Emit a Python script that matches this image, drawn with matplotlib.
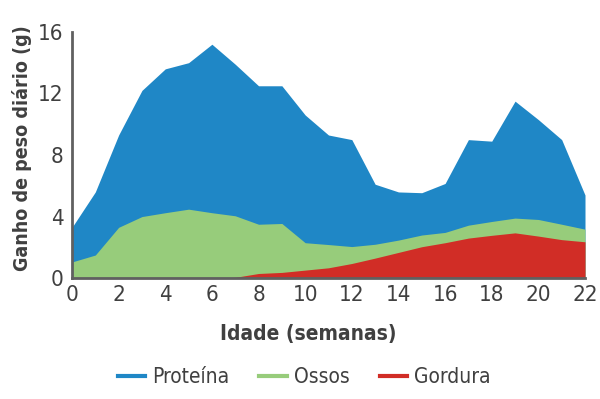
import matplotlib
matplotlib.use("Agg")
import matplotlib.pyplot as plt
from matplotlib.lines import Line2D

plt.rcParams['font.family'] = ['DejaVu Sans']
plt.rcParams['font.stretch'] = 'condensed'

# weekly daily-gain data (g)
weeks = list(range(0, 23))
proteina = [3.3, 5.6, 9.3, 12.2, 13.6, 14.0, 15.2, 13.9, 12.5, 12.5, 10.6, 9.3,
            9.0, 6.1, 5.6, 5.55, 6.15, 9.0, 8.9, 11.5, 10.3, 9.0, 5.4]
ossos = [1.05, 1.5, 3.3, 4.0, 4.25, 4.48, 4.25, 4.05, 3.5, 3.55, 2.3, 2.18,
         2.05, 2.2, 2.47, 2.8, 2.97, 3.44, 3.68, 3.9, 3.81, 3.5, 3.18]
gordura = [0, 0, 0, 0, 0, 0, 0, 0.05, 0.3, 0.37, 0.52, 0.67,
           0.95, 1.3, 1.67, 2.04, 2.3, 2.6, 2.78, 2.94, 2.73, 2.5, 2.36]

series_names = ['Proteína', 'Ossos', 'Gordura']
colors = ['#1f87c6', '#97cc7b', '#d12d26']
text_color = '#404040'

fig = plt.figure(figsize=(6, 3.99), dpi=100)
ax = fig.add_axes([0.12, 0.303, 0.855, 0.617])

for vals, c in zip([proteina, ossos, gordura], colors):
    ax.fill_between(weeks, 0, vals, color=c, linewidth=0)

ax.set_xlim(0, 22)
ax.set_ylim(0, 16)
ax.set_xticks(range(0, 23, 2))
ax.set_yticks([0, 4, 8, 12, 16])
ax.tick_params(length=0, labelsize=16, colors=text_color)
ax.tick_params(axis='x', pad=5)
ax.tick_params(axis='y', pad=6)

for s in ['top', 'right']:
    ax.spines[s].set_visible(False)
for s in ['left', 'bottom']:
    ax.spines[s].set_color('#606060')
    ax.spines[s].set_linewidth(2)

ax.set_xlabel('Idade (semanas)', fontsize=15, fontweight='bold', color=text_color)
ax.xaxis.set_label_coords(0.46, -0.185)
ax.set_ylabel('Ganho de peso diário (g)', fontsize=14, fontweight='bold', color=text_color)
ax.yaxis.set_label_coords(-0.077, 0.528)

handles = [Line2D([0], [0], color=c, linewidth=3) for c in colors]
fig.legend(handles, series_names, loc='center', bbox_to_anchor=(0.507, 0.055), ncol=3,
           frameon=False, fontsize=15, handlelength=1.3, handletextpad=0.35,
           columnspacing=1.45, labelcolor=text_color)

fig.savefig('out.png', dpi=100)
